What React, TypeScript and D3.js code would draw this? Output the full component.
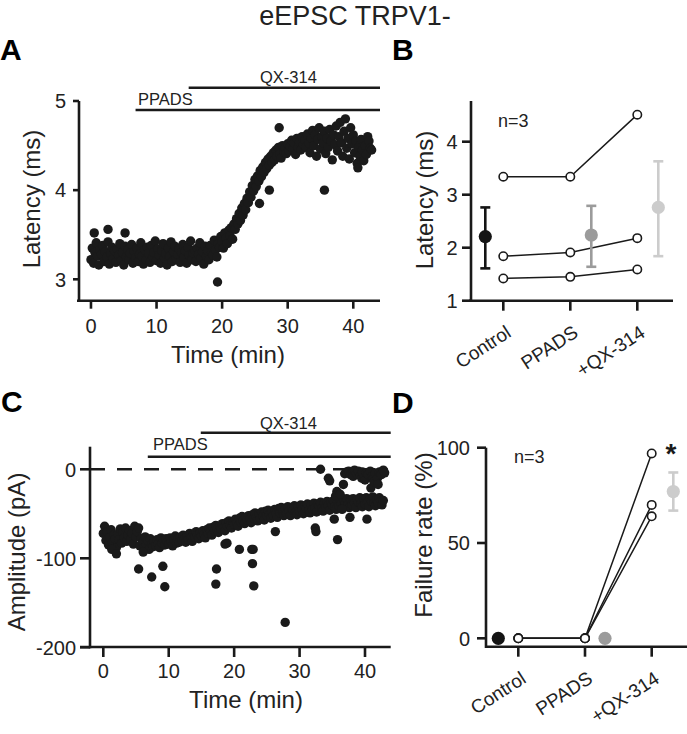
import React from 'react';
import * as d3 from 'd3';

// ---------- DATA ----------
const SWEEP_MIN = 0.2; // one sweep every 12 s

// Panel A: eEPSC latency (ms), one value per sweep starting at t = 0
const latencyA = [
  3.22, 3.35, 3.18, 3.30, 3.41, 3.26, 3.16, 3.33, 3.28, 3.38,
  3.20, 3.31, 3.25, 3.42, 3.17, 3.29, 3.36, 3.23, 3.32, 3.19,
  3.34, 3.27, 3.40, 3.21, 3.30, 3.16, 3.37, 3.25, 3.33, 3.22,
  3.29, 3.39, 3.18, 3.31, 3.24, 3.35, 3.20, 3.28, 3.41, 3.26,
  3.17, 3.33, 3.22, 3.36, 3.29, 3.19, 3.38, 3.25, 3.30, 3.43,
  3.21, 3.34, 3.27, 3.18, 3.32, 3.40, 3.24, 3.29, 3.16, 3.35,
  3.26, 3.42, 3.20, 3.31, 3.37, 3.23, 3.28, 3.34, 3.19, 3.30,
  3.39, 3.25, 3.32, 3.18, 3.36, 3.27, 3.43, 3.22, 3.29, 3.33,
  3.20, 3.35, 3.28, 3.41, 3.24, 3.31, 3.17, 3.37, 3.26, 3.32,
  3.22, 3.38, 3.30, 3.27, 3.44, 3.33, 3.25, 3.40, 3.36, 3.48,
  3.42, 3.35, 3.52, 3.46, 3.40, 3.55, 3.49, 3.58, 3.45, 3.62,
  3.56, 3.68, 3.62, 3.74, 3.66, 3.80, 3.72, 3.85, 3.78, 3.91,
  3.86, 3.98, 3.92, 4.05, 3.99, 4.12, 4.04, 4.16, 4.10, 4.22,
  4.15, 4.26, 4.20, 4.31, 4.24, 4.35, 4.28, 4.38, 4.31, 4.42,
  4.34, 4.45, 4.38, 4.48, 4.40, 4.36, 4.50, 4.43, 4.47, 4.41,
  4.52, 4.44, 4.49, 4.56, 4.46, 4.53, 4.40, 4.58, 4.48, 4.54,
  4.45, 4.60, 4.51, 4.56, 4.48, 4.63, 4.53, 4.42, 4.58, 4.67,
  4.50, 4.62, 4.38, 4.57, 4.70, 4.46, 4.60, 4.53, 4.66, 4.41,
  4.58, 4.48, 4.68, 4.55, 4.34, 4.62, 4.51, 4.72, 4.44, 4.60,
  4.76, 4.53, 4.38, 4.66, 4.80, 4.47, 4.58, 4.35, 4.70, 4.52,
  4.62, 4.42, 4.55, 4.30, 4.48, 4.38, 4.57, 4.45, 4.33, 4.50,
  4.40, 4.60, 4.55, 4.47, 4.45,
];
// Panel A: isolated sweeps [time (min), latency (ms)]
const latencyOutliers: [number, number][] = [
  [0.5, 3.52], [2.6, 3.56], [5.2, 3.52], [19.3, 2.97], [25.7, 3.85],
  [27.2, 4.0], [28.7, 4.7], [35.6, 4.0], [40.7, 4.25],
];

// Panel C: eEPSC amplitude (pA), one value per sweep starting at t = 0
const amplitudeC = [
  -72, -64, -80, -70, -85, -76, -68, -82, -74, -78,
  -88, -73, -79, -67, -83, -71, -77, -66, -81, -74,
  -69, -79, -72, -84, -64, -76, -70, -66, -86, -78,
  -82, -88, -76, -85, -80, -90, -78, -84, -87, -81,
  -86, -79, -84, -88, -77, -83, -80, -85, -78, -82,
  -84, -77, -81, -86, -79, -75, -83, -78, -82, -76,
  -80, -74, -78, -82, -75, -79, -72, -77, -81, -73,
  -76, -70, -74, -78, -71, -75, -69, -73, -77, -68,
  -72, -66, -70, -74, -65, -69, -63, -68, -71, -64,
  -67, -61, -65, -69, -60, -64, -58, -63, -66, -59,
  -62, -56, -60, -64, -55, -59, -53, -58, -61, -54,
  -57, -52, -56, -60, -51, -55, -49, -54, -58, -50,
  -55, -48, -53, -57, -47, -52, -46, -51, -55, -47,
  -52, -45, -50, -54, -44, -49, -43, -48, -52, -44,
  -50, -42, -47, -52, -43, -46, -41, -48, -51, -42,
  -47, -40, -45, -50, -41, -44, -39, -46, -49, -40,
  -45, -38, -43, -48, -39, -42, -37, -44, -47, -38,
  -43, -36, -41, -46, -37, -40, -35, -42, -45, -36,
  -41, -34, -39, -44, -35, -38, -33, -40, -43, -34,
  -40, -33, -38, -43, -34, -37, -32, -39, -42, -33,
  -39, -32, -37, -42, -33, -36, -31, -38, -41, -34,
  -38, -32, -36, -40, -35,
];
// Panel C: sweeps near 0 pA (failures) [time (min), amplitude (pA)]
const amplitudeFailures: [number, number][] = [
  [33.2, 0], [34.4, -10], [34.6, -13], [35.7, -25], [36.7, -17], [36.9, -5],
  [37.2, -3], [37.5, -2], [37.8, -6], [38.1, -3], [38.2, -8], [38.4, -1],
  [38.7, -5], [39.0, -2], [39.3, -7], [39.5, -10], [39.6, -3], [39.9, -9],
  [40.0, -12], [40.2, -4], [40.5, -6], [40.8, -2], [40.9, -21], [41.1, -8],
  [41.2, -11], [41.4, -14], [41.6, -4], [41.9, -10], [42.0, -17], [42.2, -3],
  [42.5, -6], [42.8, -1], [43.0, -4],
];
// Panel C: isolated sweeps [time (min), amplitude (pA)]
const amplitudeOutliers: [number, number][] = [
  [1.3, -90], [2.0, -95], [5.4, -112], [6.1, -93], [7.4, -121], [9.1, -109],
  [9.4, -132], [17.2, -129], [17.3, -112], [18.6, -84], [18.9, -83], [20.8, -90],
  [22.7, -90], [22.9, -90], [22.8, -106], [23.0, -131], [26.3, -70], [27.8, -172],
  [32.4, -66], [32.5, -70], [35.3, -56], [35.8, -79], [37.7, -54], [40.3, -56],
  [35.5, -30], [36.2, -28], [36.5, -45],
];

const ppadsStartMin = 6.8;
const qxStartMin = 14.9;

const conditions = ['Control', 'PPADS', '+QX-314'];

// Panel B: latency (ms) per cell, and mean ± error
const latencyCells = [
  [3.34, 3.34, 4.51],
  [1.84, 1.91, 2.18],
  [1.42, 1.45, 1.59],
];
const latencyMean = [2.21, 2.24, 2.76];
const latencyErrLow = [1.61, 1.64, 1.84];
const latencyErrHigh = [2.76, 2.79, 3.63];

// Panel D: failure rate (%) per cell, and mean ± error
const failureCells = [
  [0, 0, 97],
  [0, 0, 70],
  [0, 0, 64],
];
const failureMean = [0, 0, 77];
const failureErrLow = [null, null, 67];
const failureErrHigh = [null, null, 87];

const latencyTicksA = [3, 4, 5];
const timeTicks = [0, 10, 20, 30, 40];
const amplitudeTicks = [-200, -100, 0];
const latencyTicksB = [1, 2, 3, 4];
const failureTicks = [0, 50, 100];

const meanColors = ['#141414', '#9b9b9b', '#cccccc'];

// ---------- STYLE ----------
const FONT = "'Liberation Sans', Arial, Helvetica, sans-serif";
const AX = 2.6;
const INK = '#1a1a1a';
const TXT = '#222';

function TimePanel(props: any) {
  const {
    xScale, yScale, yAxisX, xAxisLeft, xAxisRight, xAxisY, yTop, yTicks, xTicks,
    yTickLen, xTickLen, yLabelGap, xLabelY, xTitleX, xTitleY, yTitleX, yTitleY, yTitle,
    series, extra, barPPADSY, barQXY, ppadsLabel, qxLabel, dashedZero,
  } = props;
  return (
    <g>
      {dashedZero && (
        <line x1={yAxisX} x2={xAxisRight - 3} y1={yScale(0)} y2={yScale(0)}
          stroke={INK} strokeWidth={2.6} strokeDasharray="15 12" />
      )}
      {series.map((v: number, i: number) => (
        <circle key={'s' + i} cx={xScale(i * SWEEP_MIN)} cy={yScale(v)} r={4.7} fill={INK} />
      ))}
      {extra.map((p: [number, number], i: number) => (
        <circle key={'e' + i} cx={xScale(p[0])} cy={yScale(p[1])} r={4.7} fill={INK} />
      ))}
      {/* drug bars */}
      <line x1={xScale(ppadsStartMin)} x2={xAxisRight} y1={barPPADSY} y2={barPPADSY} stroke={INK} strokeWidth={2.6} />
      <line x1={xScale(qxStartMin)} x2={xAxisRight} y1={barQXY} y2={barQXY} stroke={INK} strokeWidth={2.6} />
      <text x={ppadsLabel[0]} y={ppadsLabel[1]} fontSize={16.5} fontFamily={FONT} fill={TXT}>PPADS</text>
      <text x={qxLabel[0]} y={qxLabel[1]} fontSize={16.5} fontFamily={FONT} fill={TXT}>QX-314</text>
      {/* axes */}
      <line x1={yAxisX} x2={yAxisX} y1={yTop} y2={xAxisY + AX / 2} stroke={INK} strokeWidth={AX} />
      <line x1={xAxisLeft} x2={xAxisRight} y1={xAxisY} y2={xAxisY} stroke={INK} strokeWidth={AX} />
      {yTicks.map((t: number) => (
        <g key={'yt' + t}>
          <line x1={yAxisX - yTickLen} x2={yAxisX} y1={yScale(t)} y2={yScale(t)} stroke={INK} strokeWidth={AX} />
          <text x={yAxisX - yTickLen - yLabelGap} y={yScale(t)} dy="0.36em" textAnchor="end"
            fontSize={20} fontFamily={FONT} fill={TXT}>{t}</text>
        </g>
      ))}
      {xTicks.map((t: number) => (
        <g key={'xt' + t}>
          <line x1={xScale(t)} x2={xScale(t)} y1={xAxisY} y2={xAxisY + xTickLen} stroke={INK} strokeWidth={AX} />
          <text x={xScale(t)} y={xLabelY} textAnchor="middle" fontSize={20} fontFamily={FONT} fill={TXT}>{t}</text>
        </g>
      ))}
      <text x={xTitleX} y={xTitleY} textAnchor="middle" fontSize={24} fontFamily={FONT} fill={TXT}>Time (min)</text>
      <text transform={`translate(${yTitleX},${yTitleY}) rotate(-90)`} textAnchor="middle"
        fontSize={24} fontFamily={FONT} fill={TXT}>{yTitle}</text>
    </g>
  );
}

function PairedPanel(props: any) {
  const {
    xPos, yScale, yAxisX, xAxisLeft, xAxisRight, xAxisY, yTop, yTicks, yTickLen, yLabelGap,
    cells, mean, errLow, errHigh, meanOffsets, yTitle, yTitleX, yTitleY, nLabel,
  } = props;
  const line = d3.line<number>().x((_, i) => xPos(conditions[i])!).y((v) => yScale(v));
  return (
    <g>
      {/* axes */}
      <line x1={yAxisX} x2={yAxisX} y1={yTop} y2={xAxisY + AX / 2} stroke={INK} strokeWidth={AX} />
      <line x1={xAxisLeft} x2={xAxisRight} y1={xAxisY} y2={xAxisY} stroke={INK} strokeWidth={AX} />
      {yTicks.map((t: number) => (
        <g key={'yt' + t}>
          <line x1={yAxisX - yTickLen} x2={yAxisX} y1={yScale(t)} y2={yScale(t)} stroke={INK} strokeWidth={AX} />
          <text x={yAxisX - yTickLen - yLabelGap} y={yScale(t)} dy="0.36em" textAnchor="end"
            fontSize={20} fontFamily={FONT} fill={TXT}>{t}</text>
        </g>
      ))}
      {conditions.map((c) => (
        <g key={c}>
          <line x1={xPos(c)} x2={xPos(c)} y1={xAxisY} y2={xAxisY + 10} stroke={INK} strokeWidth={AX} />
          <text transform={`translate(${xPos(c)! + 9},${xAxisY + 35}) rotate(-33)`} textAnchor="end"
            fontSize={19} fontFamily={FONT} fill={TXT}>{c}</text>
        </g>
      ))}
      {/* individual cells */}
      {cells.map((row: number[], i: number) => (
        <path key={'l' + i} d={line(row)!} fill="none" stroke={INK} strokeWidth={1.5} />
      ))}
      {cells.map((row: number[], i: number) =>
        row.map((v, j) => (
          <circle key={'c' + i + j} cx={xPos(conditions[j])} cy={yScale(v)} r={4.2}
            fill="#fff" stroke={INK} strokeWidth={1.6} />
        ))
      )}
      {/* mean ± error */}
      {mean.map((m: number, j: number) => {
        const cx = xPos(conditions[j])! + meanOffsets[j];
        const col = meanColors[j];
        return (
          <g key={'m' + j}>
            {errLow[j] != null && (
              <g>
                <line x1={cx} x2={cx} y1={yScale(errLow[j])} y2={yScale(errHigh[j])} stroke={col} strokeWidth={2.6} />
                <line x1={cx - 5} x2={cx + 5} y1={yScale(errLow[j])} y2={yScale(errLow[j])} stroke={col} strokeWidth={2.6} />
                <line x1={cx - 5} x2={cx + 5} y1={yScale(errHigh[j])} y2={yScale(errHigh[j])} stroke={col} strokeWidth={2.6} />
              </g>
            )}
            <circle cx={cx} cy={yScale(m)} r={6.6} fill={col} />
          </g>
        );
      })}
      <text x={nLabel[0]} y={nLabel[1]} fontSize={18} fontFamily={FONT} fill={TXT}>n=3</text>
      <text transform={`translate(${yTitleX},${yTitleY}) rotate(-90)`} textAnchor="middle"
        fontSize={24} fontFamily={FONT} fill={TXT}>{yTitle}</text>
    </g>
  );
}

export default function App() {
  // Panel A scales
  const xA = d3.scaleLinear().domain([-2.1, 44]).range([77.2, 379.5]);
  const yA = d3.scaleLinear().domain([2.76, 5]).range([300.7, 101]);
  // Panel C scales
  const xC = d3.scaleLinear().domain([0, 40]).range([103.3, 365]);
  const yC = d3.scaleLinear().domain([-200, 0]).range([647.3, 469.3]);
  // Panel B scales
  const xB = d3.scalePoint<string>().domain(conditions).range([503.3, 637.3]);
  const yB = d3.scaleLinear().domain([1, 4]).range([300.7, 141.7]);
  // Panel D scales
  const xD = d3.scalePoint<string>().domain(conditions).range([518.3, 651.7]);
  const yD = d3.scaleLinear().domain([0, 100]).range([638.3, 447.7]);

  return (
    <svg width={687} height={734} viewBox="0 0 687 734"
      style={{ position: 'absolute', left: 0, top: 0, display: 'block', background: '#fff' }}>
      <rect width={687} height={734} fill="#fff" />
      <text x={355} y={25} textAnchor="middle" fontSize={27} fontFamily={FONT} fill={TXT}>eEPSC TRPV1-</text>
      {[['A', 0, 60], ['B', 392, 60], ['C', 1, 412], ['D', 392, 413]].map(([l, x, y]) => (
        <text key={l as string} x={x as number} y={y as number} fontSize={30} fontWeight="bold"
          fontFamily={FONT} fill="#000">{l}</text>
      ))}

      <TimePanel
        xScale={xA} yScale={yA} yAxisX={79} xAxisLeft={77} xAxisRight={380} xAxisY={300.7} yTop={101}
        yTicks={latencyTicksA} xTicks={timeTicks} yTickLen={6} xTickLen={8} yLabelGap={7}
        xLabelY={333} xTitleX={228} xTitleY={363} yTitleX={40} yTitleY={199} yTitle="Latency (ms)"
        series={latencyA} extra={latencyOutliers} barPPADSY={110} barQXY={87.7}
        ppadsLabel={[138, 105]} qxLabel={[260, 83]} dashedZero={false}
      />

      <TimePanel
        xScale={xC} yScale={yC} yAxisX={90} xAxisLeft={80} xAxisRight={390.7} xAxisY={647} yTop={446.7}
        yTicks={amplitudeTicks} xTicks={timeTicks} yTickLen={10} xTickLen={10} yLabelGap={4}
        xLabelY={678} xTitleX={246} xTitleY={708} yTitleX={25} yTitleY={552} yTitle="Amplitude (pA)"
        series={amplitudeC} extra={[...amplitudeFailures, ...amplitudeOutliers]} barPPADSY={456.7} barQXY={432.7}
        ppadsLabel={[153, 450]} qxLabel={[260, 429]} dashedZero={true}
      />

      <PairedPanel
        xPos={xB} yScale={yB} yAxisX={471} xAxisLeft={469} xAxisRight={673} xAxisY={300.7} yTop={101}
        yTicks={latencyTicksB} yTickLen={9} yLabelGap={4.5}
        cells={latencyCells} mean={latencyMean} errLow={latencyErrLow} errHigh={latencyErrHigh}
        meanOffsets={[-18, 21, 21]} yTitle="Latency (ms)" yTitleX={433} yTitleY={200} nLabel={[498, 127]}
      />

      <PairedPanel
        xPos={xD} yScale={yD} yAxisX={486} xAxisLeft={486} xAxisRight={687} xAxisY={646.7} yTop={447.7}
        yTicks={failureTicks} yTickLen={9} yLabelGap={7}
        cells={failureCells} mean={failureMean} errLow={failureErrLow} errHigh={failureErrHigh}
        meanOffsets={[-20, 20, 21.6]} yTitle="Failure rate (%)" yTitleX={432} yTitleY={535} nLabel={[514, 463]}
      />
      <text x={671} y={463} textAnchor="middle" fontSize={28} fontWeight="bold" fontFamily={FONT} fill={INK}>*</text>
    </svg>
  );
}
